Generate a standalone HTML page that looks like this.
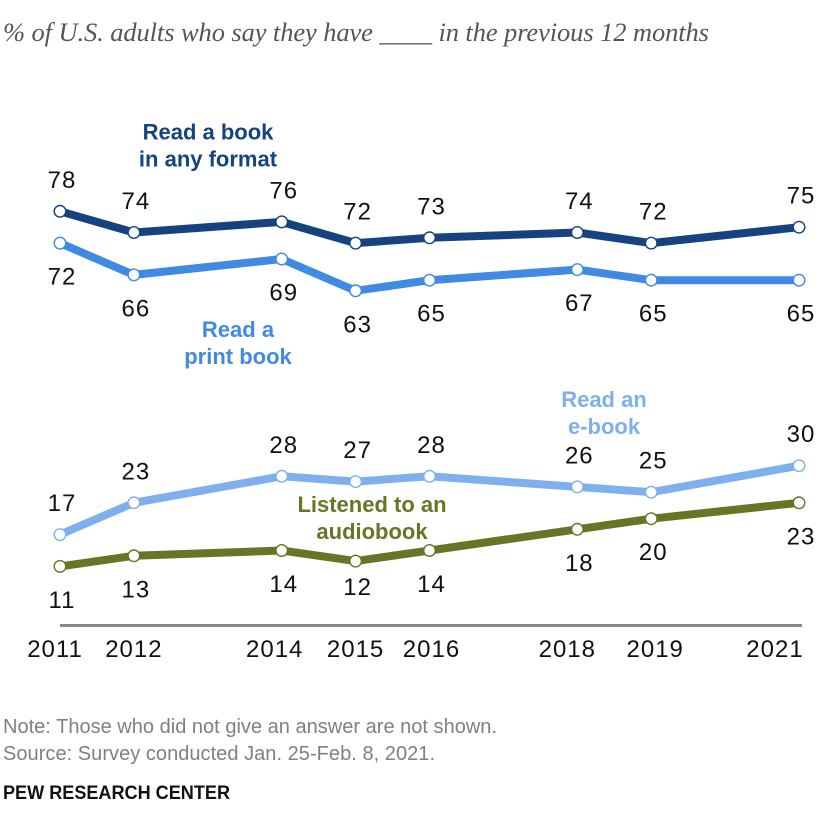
<!DOCTYPE html>
<html lang="en">
<head>
<meta charset="utf-8">
<title>Book reading trends</title>
<style>
html,body{margin:0;padding:0;background:#fff;width:840px;height:827px;overflow:hidden}
svg{display:block}
text{font-family:"Liberation Sans",Arial,sans-serif}
</style>
</head>
<body>
<svg id="chart" xmlns="http://www.w3.org/2000/svg" width="840" height="827" viewBox="0 0 840 827">
<text x="3" y="41" textLength="706" lengthAdjust="spacing" style="font-family:'Liberation Serif',serif;font-style:italic;font-size:26.5px;fill:#555">% of U.S. adults who say they have ____ in the previous 12 months</text>
<g id="series-layer"></g>
<g id="label-layer"></g>
<g id="axis-layer"></g>
<g style="font-weight:bold;font-size:22px" text-anchor="middle">
<text fill="#14437f"><tspan x="208" y="139.500">Read a book</tspan><tspan x="208" y="166.500">in any format</tspan></text>
<text fill="#418ae3"><tspan x="238" y="337">Read a</tspan><tspan x="238" y="364">print book</tspan></text>
<text fill="#7fb0ee"><tspan x="604" y="407">Read an</tspan><tspan x="604" y="434">e-book</tspan></text>
<text fill="#6b7425"><tspan x="372" y="512">Listened to an</tspan><tspan x="372" y="539">audiobook</tspan></text>
</g>
<text x="3" y="733" textLength="494" lengthAdjust="spacing" style="font-size:20px;fill:#808080">Note: Those who did not give an answer are not shown.</text>
<text x="3" y="760" textLength="432" lengthAdjust="spacing" style="font-size:20px;fill:#808080">Source: Survey conducted Jan. 25-Feb. 8, 2021.</text>
<text x="3" y="799" textLength="227" lengthAdjust="spacingAndGlyphs" style="font-size:19.500px;font-weight:bold;fill:#111">PEW RESEARCH CENTER</text>
</svg>
<script>
const years = [2011, 2012, 2014, 2015, 2016, 2018, 2019, 2021];
const anyFormat = [78, 74, 76, 72, 73, 74, 72, 75];
const printBook = [72, 66, 69, 63, 65, 67, 65, 65];
const eBook = [17, 23, 28, 27, 28, 26, 25, 30];
const audiobook = [11, 13, 14, 12, 14, 18, 20, 23];
const anyFormatPlacement = ['above', 'above', 'above', 'above', 'above', 'above', 'above', 'above'];
const printBookPlacement = ['below', 'below', 'below', 'below', 'below', 'below', 'below', 'below'];
const eBookPlacement = ['above', 'above', 'above', 'above', 'above', 'above', 'above', 'above'];
const audiobookPlacement = ['below', 'below', 'below', 'close', 'below', 'below', 'below', 'below'];

const NS = 'http://www.w3.org/2000/svg';
const xScale = year => 60 + (year - 2011) * 73.9;
const yScale = value => 211.3 + (78 - value) * 5.3;
const tickNudge = {2011: -5, 2012: 0, 2014: -7, 2015: 0, 2016: 2, 2018: -10, 2019: 4, 2021: -24};
const labelOffset = {above: -23.5, below: 41.5, close: 34};

const seriesList = [
  {name: 'any-format', values: anyFormat, placement: anyFormatPlacement, color: '#14437f'},
  {name: 'print-book', values: printBook, placement: printBookPlacement, color: '#418ae3'},
  {name: 'e-book', values: eBook, placement: eBookPlacement, color: '#7fb0ee'},
  {name: 'audiobook', values: audiobook, placement: audiobookPlacement, color: '#6b7425'}
];

const seriesLayer = document.getElementById('series-layer');
const labelLayer = document.getElementById('label-layer');
const axisLayer = document.getElementById('axis-layer');

seriesList.forEach(series => {
  const line = document.createElementNS(NS, 'polyline');
  
  
  line.setAttribute('points', series.values.map((v, i) => xScale(years[i]) + ',' + yScale(v)).join(' '));
  line.setAttribute('fill', 'none');
  line.setAttribute('stroke', series.color);
  line.setAttribute('stroke-width', '8');
  line.setAttribute('stroke-linejoin', 'round');
  seriesLayer.appendChild(line);

  series.values.forEach((v, i) => {
    const point = document.createElementNS(NS, 'circle');
    
    
    point.setAttribute('cx', xScale(years[i]));
    point.setAttribute('cy', yScale(v));
    point.setAttribute('r', '5.8');
    point.setAttribute('fill', '#fff');
    point.setAttribute('stroke', series.color);
    point.setAttribute('stroke-width', '1.4');
    seriesLayer.appendChild(point);

    const label = document.createElementNS(NS, 'text');
    
    
    label.setAttribute('x', xScale(years[i]) + 2);
    label.setAttribute('y', yScale(v) + labelOffset[series.placement[i]]);
    label.setAttribute('text-anchor', 'middle');
    label.setAttribute('style', 'font-size:24px;letter-spacing:1px;fill:#111');
    label.textContent = v;
    labelLayer.appendChild(label);
  });
});

const baseline = document.createElementNS(NS, 'line');


baseline.setAttribute('x1', xScale(years[0]));
baseline.setAttribute('x2', xScale(years[years.length - 1]) + 3);
baseline.setAttribute('y1', '625.5');
baseline.setAttribute('y2', '625.5');
baseline.setAttribute('stroke', '#888');
baseline.setAttribute('stroke-width', '3');
axisLayer.appendChild(baseline);

years.forEach(year => {
  const tick = document.createElementNS(NS, 'text');
  
  
  tick.setAttribute('x', xScale(year) + tickNudge[year]);
  tick.setAttribute('y', '657');
  tick.setAttribute('text-anchor', 'middle');
  tick.setAttribute('style', 'font-size:24px;letter-spacing:1px;fill:#111');
  tick.textContent = year;
  axisLayer.appendChild(tick);
});
</script>
</body>
</html>
